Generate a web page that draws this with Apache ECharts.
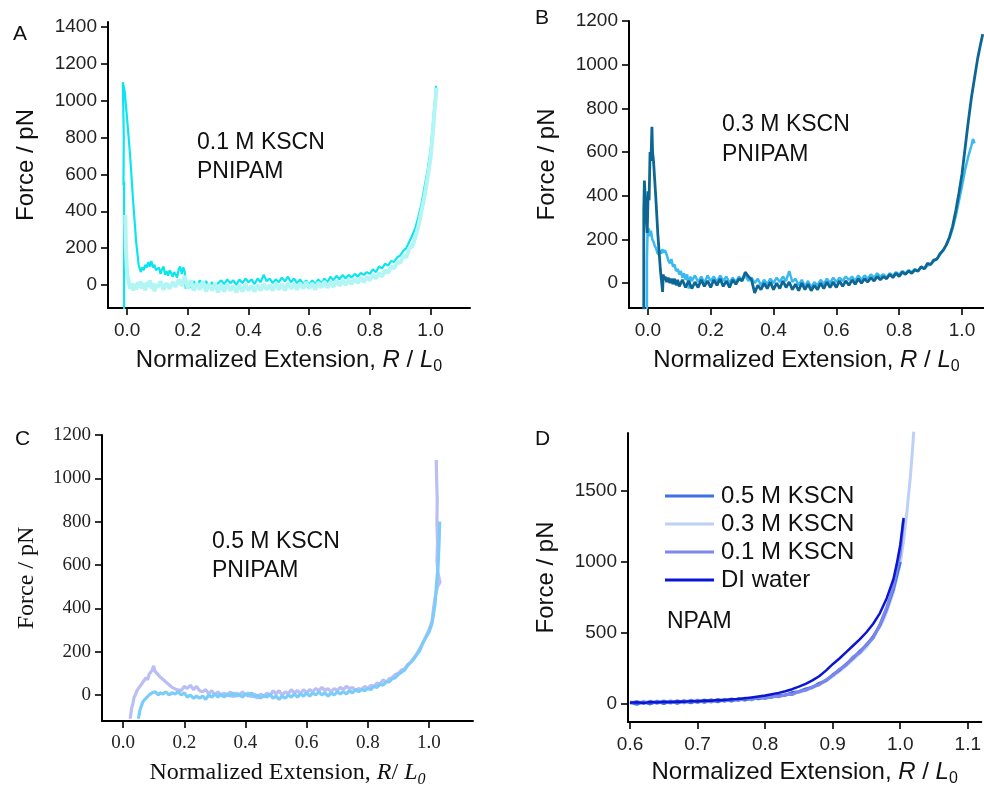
<!DOCTYPE html>
<html><head><meta charset="utf-8">
<script src="https://cdn.jsdelivr.net/npm/echarts@6/dist/echarts.min.js"></script>
<style>html,body{margin:0;padding:0;background:#fff}#c{width:984px;height:789px}</style>
</head><body><div id="c"></div>
<script>
// ---------- Panel A : 0.1 M KSCN PNIPAM ----------
const aTicksX = [0, 0.2, 0.4, 0.6, 0.8, 1.0];
const aTicksY = [0, 200, 400, 600, 800, 1000, 1200, 1400];
const aBright = [[-0.010,-130],[-0.010,560],[-0.012,540],[-0.011,800],[-0.013,790],[-0.014,1100],[-0.008,1050],[0.0,900],[0.01,700],[0.02,450],[0.03,230],[0.038,110],[0.045,70],[0.05,95],[0.055,80],[0.06,110],[0.065,95],[0.07,125],[0.075,100],[0.08,130],[0.085,95],[0.09,110],[0.095,80],[0.10,70],[0.105,95],[0.11,60],[0.115,85],[0.12,100],[0.125,55],[0.13,75],[0.135,50],[0.14,80],[0.145,65],[0.15,45],[0.155,70],[0.16,55],[0.165,40],[0.17,85],[0.175,100],[0.18,60],[0.185,95],[0.19,70],[0.193,-20],[0.20,10],[0.21,-15],[0.22,20],[0.23,-5],[0.24,25],[0.25,0],[0.26,20],[0.27,-10],[0.28,15],[0.29,-15],[0.30,10],[0.31,25],[0.32,5],[0.33,30],[0.34,10],[0.35,25],[0.36,0],[0.37,30],[0.38,10],[0.39,35],[0.40,15],[0.41,30],[0.42,5],[0.43,35],[0.44,15],[0.45,55],[0.46,20],[0.47,35],[0.48,10],[0.49,30],[0.50,15],[0.51,40],[0.52,20],[0.53,45],[0.54,15],[0.55,35],[0.56,10],[0.57,30],[0.58,5],[0.59,25],[0.60,0],[0.61,25],[0.62,5],[0.63,30],[0.64,10],[0.65,35],[0.66,15],[0.67,45],[0.68,25],[0.69,50],[0.70,30],[0.71,55],[0.72,35],[0.73,55],[0.74,40],[0.75,60],[0.76,45],[0.77,65],[0.78,55],[0.79,70],[0.80,60],[0.81,85],[0.82,70],[0.83,100],[0.84,90],[0.85,115],[0.86,105],[0.87,130],[0.88,125],[0.89,150],[0.90,160],[0.91,185],[0.92,200],[0.93,235],[0.94,270],[0.95,310],[0.96,370],[0.97,440],[0.98,530],[0.99,620],[1.0,730],[1.005,820],[1.01,920],[1.015,1010],[1.018,1080]];
const aLight = [[-0.006,380],[-0.004,200],[0.0,60],[0.005,20],[0.01,-20],[0.015,10],[0.02,-30],[0.025,5],[0.03,-25],[0.035,15],[0.04,-15],[0.045,20],[0.05,-20],[0.055,10],[0.06,-30],[0.065,15],[0.07,-10],[0.075,25],[0.08,-20],[0.085,10],[0.09,-35],[0.095,5],[0.10,-15],[0.11,20],[0.12,-25],[0.13,10],[0.14,-20],[0.15,15],[0.16,-10],[0.17,30],[0.18,-5],[0.19,50],[0.20,-20],[0.21,25],[0.22,-30],[0.23,10],[0.24,-25],[0.25,20],[0.26,-35],[0.27,5],[0.28,-30],[0.29,10],[0.30,-40],[0.31,0],[0.32,-35],[0.33,5],[0.34,-30],[0.35,-5],[0.36,-40],[0.37,0],[0.38,-35],[0.39,5],[0.40,-30],[0.41,-5],[0.42,-35],[0.43,0],[0.44,-30],[0.45,5],[0.46,-25],[0.47,0],[0.48,-30],[0.49,10],[0.50,-25],[0.51,5],[0.52,-30],[0.53,10],[0.54,-20],[0.55,5],[0.56,-25],[0.57,10],[0.58,-20],[0.59,15],[0.60,-20],[0.61,10],[0.62,-25],[0.63,15],[0.64,-15],[0.65,20],[0.66,-15],[0.67,15],[0.68,-10],[0.69,25],[0.70,-5],[0.71,25],[0.72,0],[0.73,30],[0.74,5],[0.75,35],[0.76,10],[0.77,40],[0.78,15],[0.79,45],[0.80,25],[0.81,55],[0.82,35],[0.83,65],[0.84,45],[0.85,80],[0.86,65],[0.87,100],[0.88,90],[0.89,125],[0.90,120],[0.91,160],[0.92,150],[0.93,200],[0.94,210],[0.95,260],[0.96,320],[0.97,400],[0.98,480],[0.99,580],[1.0,690],[1.005,780],[1.01,880],[1.015,980],[1.02,1070]];

// ---------- Panel B : 0.3 M KSCN PNIPAM ----------
const bTicksX = [0, 0.2, 0.4, 0.6, 0.8, 1.0];
const bTicksY = [0, 200, 400, 600, 800, 1000, 1200];
const bLight = [[-0.003,-120],[-0.003,100],[-0.001,230],[0.003,250],[0.006,215],[0.010,240],[0.014,200],[0.018,190],[0.022,170],[0.026,160],[0.030,140],[0.034,130],[0.038,150],[0.042,135],[0.046,155],[0.05,140],[0.055,150],[0.06,130],[0.065,105],[0.07,90],[0.075,110],[0.08,75],[0.085,85],[0.09,55],[0.095,65],[0.10,40],[0.105,55],[0.11,25],[0.115,45],[0.12,15],[0.125,40],[0.13,-25],[0.135,30],[0.14,10],[0.15,35],[0.16,5],[0.17,30],[0.18,0],[0.19,35],[0.20,10],[0.21,30],[0.22,5],[0.23,35],[0.24,10],[0.25,30],[0.26,0],[0.27,25],[0.28,5],[0.29,30],[0.30,15],[0.31,35],[0.32,10],[0.33,25],[0.34,0],[0.35,20],[0.36,-10],[0.37,15],[0.38,-5],[0.39,20],[0.40,0],[0.41,25],[0.42,5],[0.43,30],[0.44,10],[0.45,55],[0.46,5],[0.47,20],[0.48,-10],[0.49,15],[0.50,-15],[0.51,10],[0.52,-20],[0.53,5],[0.54,-10],[0.55,15],[0.56,-5],[0.57,20],[0.58,0],[0.59,25],[0.60,5],[0.61,25],[0.62,10],[0.63,30],[0.64,15],[0.65,30],[0.66,10],[0.67,35],[0.68,15],[0.69,35],[0.70,20],[0.71,40],[0.72,25],[0.73,45],[0.74,30],[0.75,40],[0.76,25],[0.77,45],[0.78,35],[0.79,50],[0.80,40],[0.81,55],[0.82,45],[0.83,60],[0.84,50],[0.85,65],[0.86,55],[0.87,75],[0.88,65],[0.89,80],[0.90,85],[0.91,100],[0.92,110],[0.93,130],[0.94,150],[0.95,175],[0.96,205],[0.97,250],[0.98,305],[0.99,375],[1.0,445],[1.01,520],[1.02,580],[1.03,630],[1.035,660],[1.04,640]];
const bDark = [[-0.013,-120],[-0.013,330],[-0.011,470],[-0.008,380],[-0.005,300],[-0.002,230],[0.001,420],[0.004,380],[0.007,600],[0.010,560],[0.013,716],[0.015,600],[0.018,560],[0.025,400],[0.032,220],[0.040,60],[0.047,-40],[0.049,40],[0.052,15],[0.055,30],[0.06,5],[0.065,25],[0.07,0],[0.075,20],[0.08,-5],[0.085,20],[0.09,-10],[0.095,15],[0.10,-15],[0.11,15],[0.12,-20],[0.13,10],[0.14,-25],[0.15,5],[0.16,-20],[0.17,15],[0.18,-15],[0.19,10],[0.20,-20],[0.21,15],[0.22,-10],[0.23,20],[0.24,-15],[0.25,10],[0.26,-20],[0.27,15],[0.28,-5],[0.29,20],[0.30,10],[0.31,50],[0.32,30],[0.33,15],[0.34,-45],[0.35,-10],[0.36,-30],[0.37,0],[0.38,-25],[0.39,5],[0.40,-30],[0.41,0],[0.42,-25],[0.43,10],[0.44,-20],[0.45,5],[0.46,-30],[0.47,-5],[0.48,-35],[0.49,0],[0.50,-30],[0.51,-5],[0.52,-35],[0.53,-10],[0.54,-30],[0.55,0],[0.56,-25],[0.57,5],[0.58,-20],[0.59,5],[0.60,-20],[0.61,10],[0.62,-15],[0.63,10],[0.64,-10],[0.65,15],[0.66,-5],[0.67,20],[0.68,0],[0.69,20],[0.70,5],[0.71,25],[0.72,10],[0.73,30],[0.74,15],[0.75,30],[0.76,20],[0.77,40],[0.78,25],[0.79,45],[0.80,30],[0.81,50],[0.82,40],[0.83,55],[0.84,45],[0.85,60],[0.86,55],[0.87,75],[0.88,65],[0.89,90],[0.90,85],[0.91,105],[0.92,110],[0.93,135],[0.94,150],[0.95,175],[0.96,210],[0.97,260],[0.98,330],[0.99,410],[1.0,500],[1.01,620],[1.02,740],[1.03,850],[1.04,940],[1.05,1030],[1.06,1100],[1.066,1140]];

// ---------- Panel C : 0.5 M KSCN PNIPAM ----------
const cTicksX = [0, 0.2, 0.4, 0.6, 0.8, 1.0];
const cTicksY = [0, 200, 400, 600, 800, 1000, 1200];
const cLavender = [[0.023,-110],[0.028,-60],[0.032,-40],[0.036,-10],[0.04,0],[0.045,20],[0.05,15],[0.055,40],[0.06,35],[0.065,60],[0.07,55],[0.075,80],[0.08,70],[0.085,95],[0.09,90],[0.095,115],[0.10,135],[0.104,110],[0.12,85],[0.14,60],[0.16,35],[0.175,25],[0.18,30],[0.19,20],[0.20,40],[0.21,30],[0.22,45],[0.23,25],[0.24,40],[0.25,20],[0.26,15],[0.27,25],[0.28,5],[0.29,20],[0.30,0],[0.31,15],[0.32,-5],[0.33,10],[0.34,-5],[0.35,15],[0.36,-10],[0.37,10],[0.38,-5],[0.39,15],[0.40,0],[0.41,10],[0.42,-10],[0.43,5],[0.44,-15],[0.45,5],[0.46,-10],[0.47,10],[0.48,-5],[0.49,20],[0.50,5],[0.51,20],[0.52,0],[0.53,15],[0.54,5],[0.55,25],[0.56,10],[0.57,20],[0.58,5],[0.59,25],[0.60,10],[0.61,25],[0.62,15],[0.63,30],[0.64,20],[0.65,35],[0.66,20],[0.67,30],[0.68,15],[0.69,30],[0.70,20],[0.71,35],[0.72,25],[0.73,40],[0.74,30],[0.75,35],[0.76,20],[0.77,30],[0.78,25],[0.79,40],[0.80,30],[0.81,45],[0.82,40],[0.83,55],[0.84,50],[0.85,70],[0.86,60],[0.87,75],[0.88,80],[0.89,95],[0.90,100],[0.91,115],[0.92,120],[0.93,140],[0.94,150],[0.95,170],[0.96,190],[0.97,215],[0.98,240],[0.99,270],[1.0,300],[1.01,340],[1.015,400],[1.02,450],[1.028,500],[1.036,520],[1.03,560],[1.026,620],[1.028,700],[1.026,800],[1.027,900],[1.025,1000],[1.024,1085]];
const cBlue = [[0.05,-110],[0.055,-70],[0.06,-50],[0.065,-30],[0.07,-35],[0.075,-15],[0.08,-20],[0.085,0],[0.09,-5],[0.095,10],[0.10,5],[0.105,15],[0.11,10],[0.115,0],[0.12,10],[0.13,5],[0.14,15],[0.15,0],[0.16,10],[0.17,5],[0.18,15],[0.19,0],[0.20,10],[0.21,-10],[0.22,0],[0.23,-15],[0.24,-5],[0.25,-15],[0.26,-5],[0.27,-20],[0.28,0],[0.29,-10],[0.30,5],[0.31,-10],[0.32,5],[0.33,-10],[0.34,5],[0.35,-5],[0.36,10],[0.37,-5],[0.38,5],[0.39,-10],[0.40,5],[0.41,-5],[0.42,10],[0.43,-10],[0.44,0],[0.45,-15],[0.46,0],[0.47,-10],[0.48,5],[0.49,-15],[0.50,-5],[0.51,-20],[0.52,-5],[0.53,-15],[0.54,0],[0.55,-10],[0.56,5],[0.57,-10],[0.58,5],[0.59,-5],[0.60,10],[0.61,-5],[0.62,10],[0.63,0],[0.64,15],[0.65,0],[0.66,10],[0.67,-5],[0.68,10],[0.69,0],[0.70,15],[0.71,5],[0.72,15],[0.73,5],[0.74,20],[0.75,10],[0.76,25],[0.77,15],[0.78,25],[0.79,20],[0.80,30],[0.81,25],[0.82,40],[0.83,35],[0.84,50],[0.85,45],[0.86,60],[0.87,60],[0.88,75],[0.89,80],[0.90,95],[0.91,105],[0.92,115],[0.93,135],[0.94,150],[0.95,165],[0.96,185],[0.97,205],[0.98,240],[0.99,265],[1.0,290],[1.01,330],[1.02,420],[1.025,520],[1.03,600],[1.033,700],[1.035,800]];

// ---------- Panel D : NPAM ----------
const dTicksX = [0.6, 0.7, 0.8, 0.9, 1.0, 1.1];
const dTicksY = [0, 500, 1000, 1500];
const dNames = ['0.5 M KSCN', '0.3 M KSCN', '0.1 M KSCN', 'DI water'];
const d05 = [[0.60,12],[0.61,-2],[0.62,15],[0.63,0],[0.64,18],[0.65,2],[0.66,20],[0.67,5],[0.68,22],[0.69,8],[0.70,25],[0.71,12],[0.72,28],[0.73,15],[0.74,32],[0.75,20],[0.76,36],[0.77,28],[0.78,42],[0.79,36],[0.80,50],[0.81,48],[0.82,62],[0.83,62],[0.84,80],[0.85,86],[0.86,106],[0.87,118],[0.88,145],[0.89,165],[0.90,205],[0.91,238],[0.92,280],[0.93,322],[0.94,370],[0.95,415],[0.96,475],[0.97,555],[0.98,670],[0.99,810],[1.0,1000]];
const d03 = [[0.60,18],[0.61,2],[0.62,20],[0.63,4],[0.64,22],[0.65,6],[0.66,24],[0.67,8],[0.68,26],[0.69,10],[0.70,28],[0.71,14],[0.72,30],[0.73,18],[0.74,34],[0.75,22],[0.76,38],[0.77,28],[0.78,44],[0.79,36],[0.80,50],[0.81,46],[0.82,60],[0.83,60],[0.84,76],[0.85,82],[0.86,100],[0.87,112],[0.88,138],[0.89,160],[0.90,195],[0.91,230],[0.92,270],[0.93,312],[0.94,355],[0.95,400],[0.96,465],[0.97,545],[0.975,590],[0.98,650],[0.99,790],[1.0,990],[1.005,1150],[1.01,1360],[1.015,1600],[1.018,1780],[1.02,1920]];
const d01 = [[0.60,5],[0.61,18],[0.62,2],[0.63,20],[0.64,5],[0.65,22],[0.66,6],[0.67,24],[0.68,8],[0.69,26],[0.70,10],[0.71,28],[0.72,14],[0.73,32],[0.74,18],[0.75,36],[0.76,24],[0.77,40],[0.78,30],[0.79,46],[0.80,38],[0.81,54],[0.82,50],[0.83,66],[0.84,66],[0.85,88],[0.86,96],[0.87,120],[0.88,135],[0.89,168],[0.90,200],[0.91,245],[0.92,275],[0.93,330],[0.94,360],[0.95,420],[0.96,465],[0.97,560],[0.98,680],[0.99,830],[1.0,1060],[1.005,1300]];
const dWater = [[0.60,8],[0.61,12],[0.62,6],[0.63,14],[0.64,10],[0.65,16],[0.66,12],[0.67,18],[0.68,15],[0.69,20],[0.70,18],[0.71,24],[0.72,22],[0.73,28],[0.74,27],[0.75,33],[0.76,35],[0.77,41],[0.78,46],[0.79,53],[0.80,60],[0.81,69],[0.82,78],[0.83,90],[0.84,104],[0.85,122],[0.86,142],[0.87,166],[0.88,195],[0.89,235],[0.90,280],[0.91,320],[0.92,365],[0.93,410],[0.94,455],[0.95,505],[0.96,565],[0.97,640],[0.98,745],[0.99,880],[0.995,990],[1.0,1120],[1.005,1310]];

const SANS = "'Liberation Sans', Arial, sans-serif";
const SERIF = "'Liberation Serif', 'Times New Roman', serif";

function richFor(font) {
  return {
    n: {fontFamily: font, fontSize: 24, color: '#111', lineHeight: 30},
    i: {fontFamily: font, fontSize: 24, fontStyle: 'italic', color: '#111', lineHeight: 30},
    s: {fontFamily: font, fontSize: 16, color: '#111', lineHeight: 10, verticalAlign: 'bottom'},
    si: {fontFamily: font, fontSize: 16, fontStyle: 'italic', color: '#111', lineHeight: 10, verticalAlign: 'bottom'}
  };
}

function xAx(gi, min, max, ticks, font, name, gap) {
  return {
    type: 'value', gridIndex: gi, min: min, max: max,
    splitLine: {show: false},
    axisLine: {show: true, onZero: false, lineStyle: {color: '#000', width: 2}},
    axisTick: {show: true, length: 7, lineStyle: {color: '#000', width: 1.6}, customValues: ticks},
    axisLabel: {customValues: ticks, margin: 13, fontFamily: font, fontSize: 19, color: '#222',
      formatter: v => Number(v).toFixed(1)},
    name: name, nameLocation: 'middle', nameGap: gap,
    nameTextStyle: {rich: richFor(font)}
  };
}
function yAx(gi, min, max, ticks, font, gap) {
  return {
    type: 'value', gridIndex: gi, min: min, max: max,
    splitLine: {show: false},
    axisLine: {show: true, onZero: false, lineStyle: {color: '#000', width: 2}},
    axisTick: {show: true, length: 7, lineStyle: {color: '#000', width: 1.6}, customValues: ticks},
    axisLabel: {customValues: ticks, margin: 11, fontFamily: font, fontSize: 19, color: '#222',
      formatter: v => String(v)},
    name: 'Force / pN', nameLocation: 'middle', nameGap: gap,
    nameTextStyle: {fontFamily: font, fontSize: 24, color: '#111'}
  };
}
function ln(name, gi, data, color, width) {
  return {type: 'line', name: name, xAxisIndex: gi, yAxisIndex: gi, data: data,
    showSymbol: false, symbol: 'none', smooth: false, clip: true,
    lineStyle: {color: color, width: width}, itemStyle: {color: color}};
}

const chart = echarts.init(document.getElementById('c'), null, {renderer: 'canvas'});
const xTitleSans = '{n|Normalized Extension, }{i|R}{n| / }{i|L}{s|0}';
const xTitleSerif = '{n|Normalized Extension, }{i|R}{n|/ }{i|L}{si|0}';

function txt(x, y, s, size, font) {
  return {type: 'text', left: x, top: y, style: {text: s, fontSize: size, fontFamily: font || SANS, fill: '#111'}};
}

chart.setOption({
  animation: false,
  backgroundColor: '#fff',
  grid: [
    {left: 108, top: 22, width: 362, height: 286},
    {left: 629, top: 21, width: 355, height: 287},
    {left: 102, top: 435, width: 371, height: 287},
    {left: 628, top: 433, width: 356, height: 289}
  ],
  xAxis: [
    xAx(0, -0.063, 1.13, aTicksX, SANS, xTitleSans, 37),
    xAx(1, -0.06, 1.07, bTicksX, SANS, xTitleSans, 37),
    xAx(2, -0.069, 1.144, cTicksX, SERIF, xTitleSerif, 37),
    xAx(3, 0.597, 1.12, dTicksX, SANS, xTitleSans, 35)
  ],
  yAxis: [
    yAx(0, -125, 1427, aTicksY, SANS, 70),
    yAx(1, -114, 1200, bTicksY, SANS, 70),
    yAx(2, -120, 1200, cTicksY, SERIF, 63),
    yAx(3, -127, 1908, dTicksY, SANS, 70)
  ],
  legend: {
    data: dNames.map(n => ({name: n, icon: 'rect'})),
    orient: 'vertical', left: 660, top: 479, itemWidth: 49, itemHeight: 3, itemGap: 4,
    textStyle: {fontFamily: SANS, fontSize: 24, color: '#111', padding: [0, 0, 0, 2], lineHeight: 24},
    selectedMode: false
  },
  graphic: [
    txt(13, 24, 'A', 21), txt(535, 8, 'B', 21), txt(15, 429, 'C', 21), txt(535, 429, 'D', 21),
    txt(197, 131, '0.1 M KSCN', 23), txt(197, 160, 'PNIPAM', 23),
    txt(722, 113, '0.3 M KSCN', 23), txt(722, 143, 'PNIPAM', 23),
    txt(212, 530, '0.5 M KSCN', 23), txt(212, 559, 'PNIPAM', 23),
    txt(667, 610, 'NPAM', 23)
  ],
  series: [
    ln('A bright', 0, aBright, '#0BE6EE', 2.2),
    ln('A light', 0, aLight, '#B2F5F5', 4),
    ln('B light', 1, bLight, '#3AB8F0', 2.5),
    ln('B dark', 1, bDark, '#0D6694', 2.8),
    ln('C lavender', 2, cLavender, '#BABEF5', 3.2),
    ln('C blue', 2, cBlue, '#7CCCF9', 3.2),
    ln('0.3 M KSCN', 3, d03, '#BED0F6', 3),
    ln('0.5 M KSCN', 3, d05, '#3E70E2', 3),
    ln('0.1 M KSCN', 3, d01, '#7C87EC', 3),
    ln('DI water', 3, dWater, '#0A16D2', 2.5)
  ]
});
</script></body></html>
